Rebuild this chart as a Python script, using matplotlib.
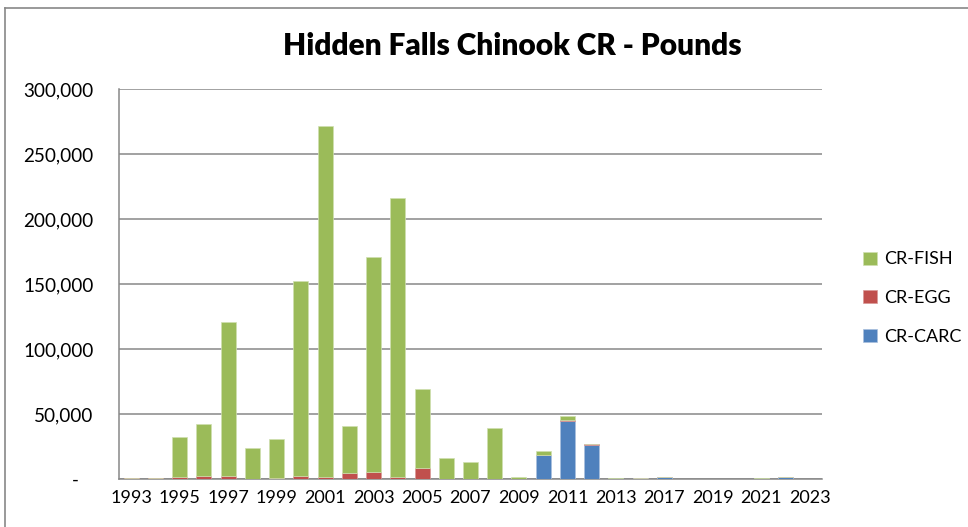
import numpy as np
import matplotlib
matplotlib.use("Agg")
import matplotlib.pyplot as plt
from matplotlib.lines import Line2D
from matplotlib.ticker import FuncFormatter

years = ["1993", "1994", "1995", "1996", "1997", "1998", "1999", "2000", "2001", "2002",
         "2003", "2004", "2005", "2006", "2007", "2008", "2009", "2010", "2011", "2012",
         "2013", "2014", "2017", "2018", "2019", "2020", "2021", "2022", "2023"]
carc = [0, 0, 0, 0, 0, 0, 0, 0, 0, 0,
        0, 0, 0, 0, 0, 0, 0, 18500, 44800, 26200,
        0, 700, 1200, 0, 0, 0, 0, 1500, 0]
egg = [500, 500, 1300, 2500, 2500, 0, 1000, 2500, 1500, 4900,
       5600, 1700, 8500, 0, 0, 0, 0, 0, 700, 700,
       0, 0, 0, 0, 0, 0, 0, 0, 0]
fish = [0, 0, 30800, 39800, 118300, 23800, 29800, 149800, 270000, 35900,
        165200, 214450, 60700, 16200, 13100, 39200, 1500, 3300, 2700, 0,
        1000, 0, 0, 0, 0, 0, 500, 0, 0]

c_fish = "#9BBB59"
c_egg = "#C0504D"
c_carc = "#4F81BD"

plt.rcParams['font.family'] = ['Lato', 'DejaVu Sans']

fig = plt.figure(figsize=(9.68, 5.27), dpi=100)
ax = fig.add_axes([119 / 968, 1 - 479 / 527, 703 / 968, 390 / 527])

x = np.arange(len(years))
carc_a = np.array(carc)
egg_a = np.array(egg)
fish_a = np.array(fish)
w = 0.62
ax.bar(x, carc_a, w, color=c_carc, label="CR-CARC", edgecolor="#a9c0de", linewidth=0.5, zorder=3)
ax.bar(x, egg_a, w, bottom=carc_a, color=c_egg, label="CR-EGG", edgecolor="#d99a98", linewidth=0.5, zorder=3)
ax.bar(x, fish_a, w, bottom=carc_a + egg_a, color=c_fish, label="CR-FISH", edgecolor="#cfe0b0", linewidth=0.5, zorder=3)

ax.set_xlim(-0.5, len(years) - 0.5)
ax.set_ylim(0, 300000)
ax.set_yticks(np.arange(0, 300001, 50000))
# accounting style: zero shown as a dash
ax.yaxis.set_major_formatter(FuncFormatter(lambda v, p: "-   " if v == 0 else f"{int(v):,}"))
ax.set_xticks(x[::2])
ax.set_xticklabels(years[::2])
ax.tick_params(axis="both", length=0, labelsize=13, colors="black")
ax.tick_params(axis="y", labelsize=13.6, pad=18.5)
ax.tick_params(axis="x", pad=8)
ax.grid(axis="y", color="#888888", linewidth=1.1, zorder=0)
for s in ["top", "right"]:
    ax.spines[s].set_visible(False)
for s in ["left", "bottom"]:
    ax.spines[s].set_color("#888888")
    ax.spines[s].set_linewidth(1.1)

fig.text(512 / 968, 1 - 46 / 527, "Hidden Falls Chinook CR - Pounds", ha="center", va="center",
         fontsize=21.5, fontweight="heavy")

handles, labels = ax.get_legend_handles_labels()
leg = fig.legend(handles[::-1], labels[::-1], loc="center left", bbox_to_anchor=(863 / 968, 1 - 298 / 527),
                 frameon=False, fontsize=13, handlelength=0.75, handleheight=0.75, handletextpad=0.4,
                 labelspacing=1.25, borderpad=0, borderaxespad=0)

fig.add_artist(Line2D([5 / 968, 5 / 968], [0, 1 - 8 / 527], transform=fig.transFigure, color="#888888", linewidth=1.2))
fig.add_artist(Line2D([5 / 968, 1], [1 - 8 / 527, 1 - 8 / 527], transform=fig.transFigure, color="#888888", linewidth=1.2))

fig.savefig("out.png", dpi=100)
